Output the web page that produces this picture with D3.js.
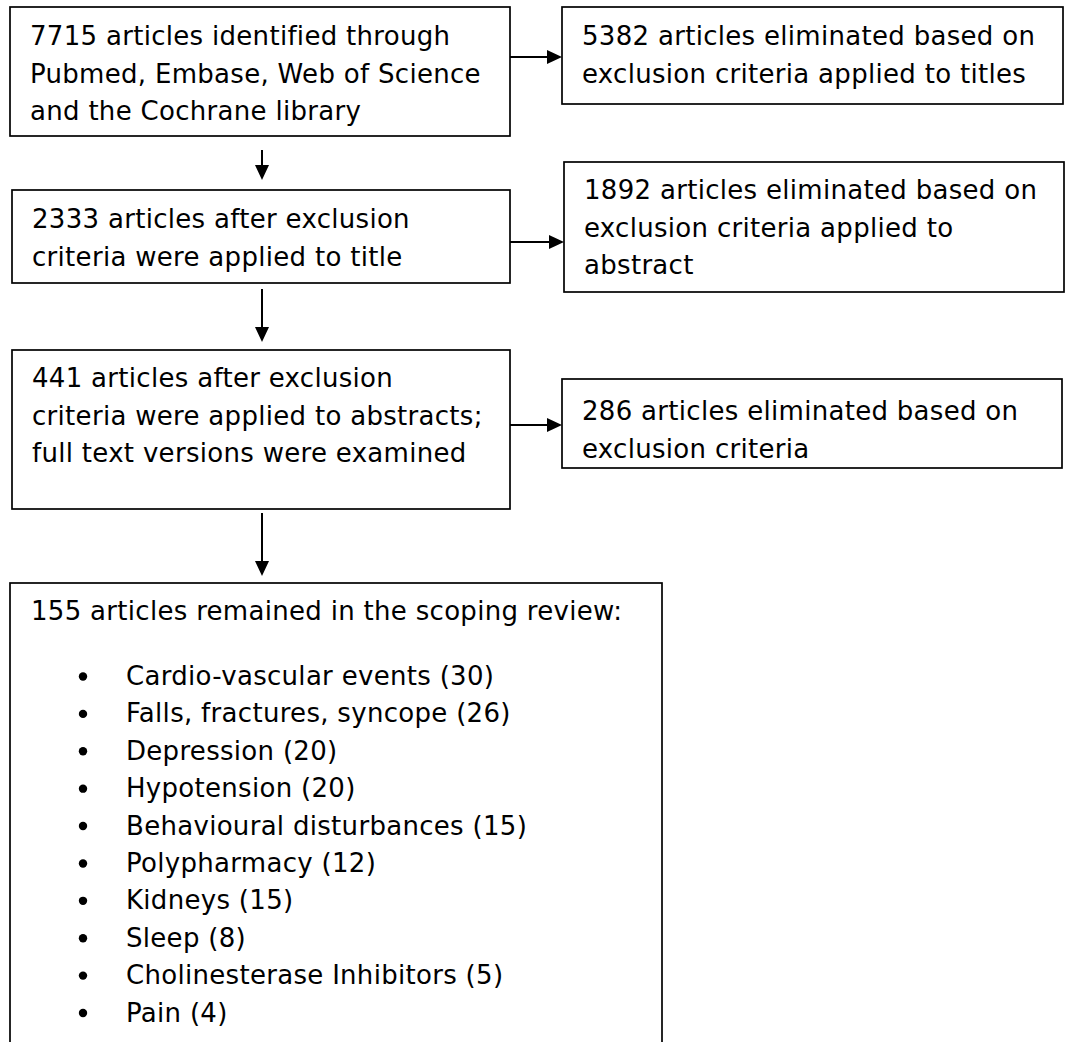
<!DOCTYPE html>
<html>
<head>
<meta charset="utf-8">
<script src="https://cdn.jsdelivr.net/npm/d3@7"></script>
<style>
  body { margin: 0; background: #fff; }
  svg text { font-family: "DejaVu Sans", Verdana, sans-serif; font-size: 26px; letter-spacing: 0.3px; fill: #000; }
</style>
</head>
<body>
<div id="chart"></div>
<script>
// Data
const stageCounts = [7715, 2333, 441, 155];
const excludedCounts = [5382, 1892, 286];
const topicNames = ["Cardio-vascular events", "Falls, fractures, syncope", "Depression", "Hypotension",
  "Behavioural disturbances", "Polypharmacy", "Kidneys", "Sleep", "Cholinesterase Inhibitors", "Pain"];
const topicCounts = [30, 26, 20, 20, 15, 12, 15, 8, 5, 4];

const stageLines = [
  [stageCounts[0] + " articles identified through", "Pubmed, Embase, Web of Science", "and the Cochrane library"],
  [stageCounts[1] + " articles after exclusion", "criteria were applied to title"],
  [stageCounts[2] + " articles after exclusion", "criteria were applied to abstracts;", "full text versions were examined"]
];
const excludedLines = [
  [excludedCounts[0] + " articles eliminated based on", "exclusion criteria applied to titles"],
  [excludedCounts[1] + " articles eliminated based on", "exclusion criteria applied to", "abstract"],
  [excludedCounts[2] + " articles eliminated based on", "exclusion criteria"]
];
const finalTitle = stageCounts[3] + " articles remained in the scoping review:";

// Global const
const W = 1067, H = 1042;
const lineH = 37.5;
const pad = 20;

// box geometry
const mainBoxes = [
  {x: 10, y: 7, w: 500, h: 129, top: 38},
  {x: 12, y: 190, w: 498, h: 93, top: 38},
  {x: 12, y: 350, w: 498, h: 159, top: 37}
];
const sideBoxes = [
  {x: 562, y: 7, w: 501, h: 97, top: 38},
  {x: 564, y: 162, w: 500, h: 130, top: 37},
  {x: 562, y: 379, w: 500, h: 89, top: 41}
];
const finalBox = {x: 10, y: 583, w: 652, h: 500};
const arrowX = 262;

let svg = d3.select("#chart")
  .append("svg")
    .attr("width", W)
    .attr("height", H);

// line scale inside a box
const lineY = d3.scaleLinear().domain([0, 1]).range([0, lineH]);

function drawBox(b, lines) {
  svg.append("rect")
    .attr("x", b.x).attr("y", b.y)
    .attr("width", b.w).attr("height", b.h)
    .attr("fill", "#fff")
    .attr("stroke", "#000")
    .attr("stroke-width", 1.7);
  svg.append("g")
    .selectAll("text")
    .data(lines)
    .enter()
    .append("text")
      .attr("x", b.x + pad)
      .attr("y", (d, i) => b.y + b.top + lineY(i))
      .text(d => d);
}

// arrow: line plus filled head
function arrow(x1, y1, x2, y2) {
  const ang = Math.atan2(y2 - y1, x2 - x1);
  const len = 15, half = 7;
  const bx = x2 - len * Math.cos(ang), by = y2 - len * Math.sin(ang);
  svg.append("line")
    .attr("x1", x1).attr("y1", y1)
    .attr("x2", bx).attr("y2", by)
    .attr("stroke", "#000")
    .attr("stroke-width", 2);
  const px = -Math.sin(ang) * half, py = Math.cos(ang) * half;
  svg.append("path")
    .attr("d", d3.line()([[x2, y2], [bx + px, by + py], [bx - px, by - py]]) + "Z")
    .attr("fill", "#000");
}

mainBoxes.forEach((b, i) => drawBox(b, stageLines[i]));
sideBoxes.forEach((b, i) => drawBox(b, excludedLines[i]));

// horizontal arrows to the exclusion boxes
const sideArrowY = [57, 242, 425];
sideArrowY.forEach((y, i) => arrow(mainBoxes[i].x + mainBoxes[i].w, y, sideBoxes[i].x, y));

// vertical arrows
arrow(arrowX, 150, arrowX, 180);
arrow(arrowX, 289, arrowX, 342);
arrow(arrowX, 513, arrowX, 576);

// final box with topic list
svg.append("rect")
  .attr("x", finalBox.x).attr("y", finalBox.y)
  .attr("width", finalBox.w).attr("height", finalBox.h)
  .attr("fill", "#fff")
  .attr("stroke", "#000")
  .attr("stroke-width", 1.7);

svg.append("text")
  .attr("x", finalBox.x + 21)
  .attr("y", 620)
  .text(finalTitle);

const topicY = d3.scalePoint()
  .domain(topicNames)
  .range([685, 1021.5]);

let items = svg.append("g")
  .selectAll("g")
  .data(topicNames)
  .enter()
  .append("g")
    .attr("transform", d => "translate(0," + topicY(d) + ")");

items.append("circle")
  .attr("cx", 83)
  .attr("cy", -8.5)
  .attr("r", 4.2)
  .attr("fill", "#000");

items.append("text")
  .attr("x", 126)
  .attr("y", 0)
  .text((d, i) => d + " (" + topicCounts[i] + ")");
</script>
</body>
</html>
